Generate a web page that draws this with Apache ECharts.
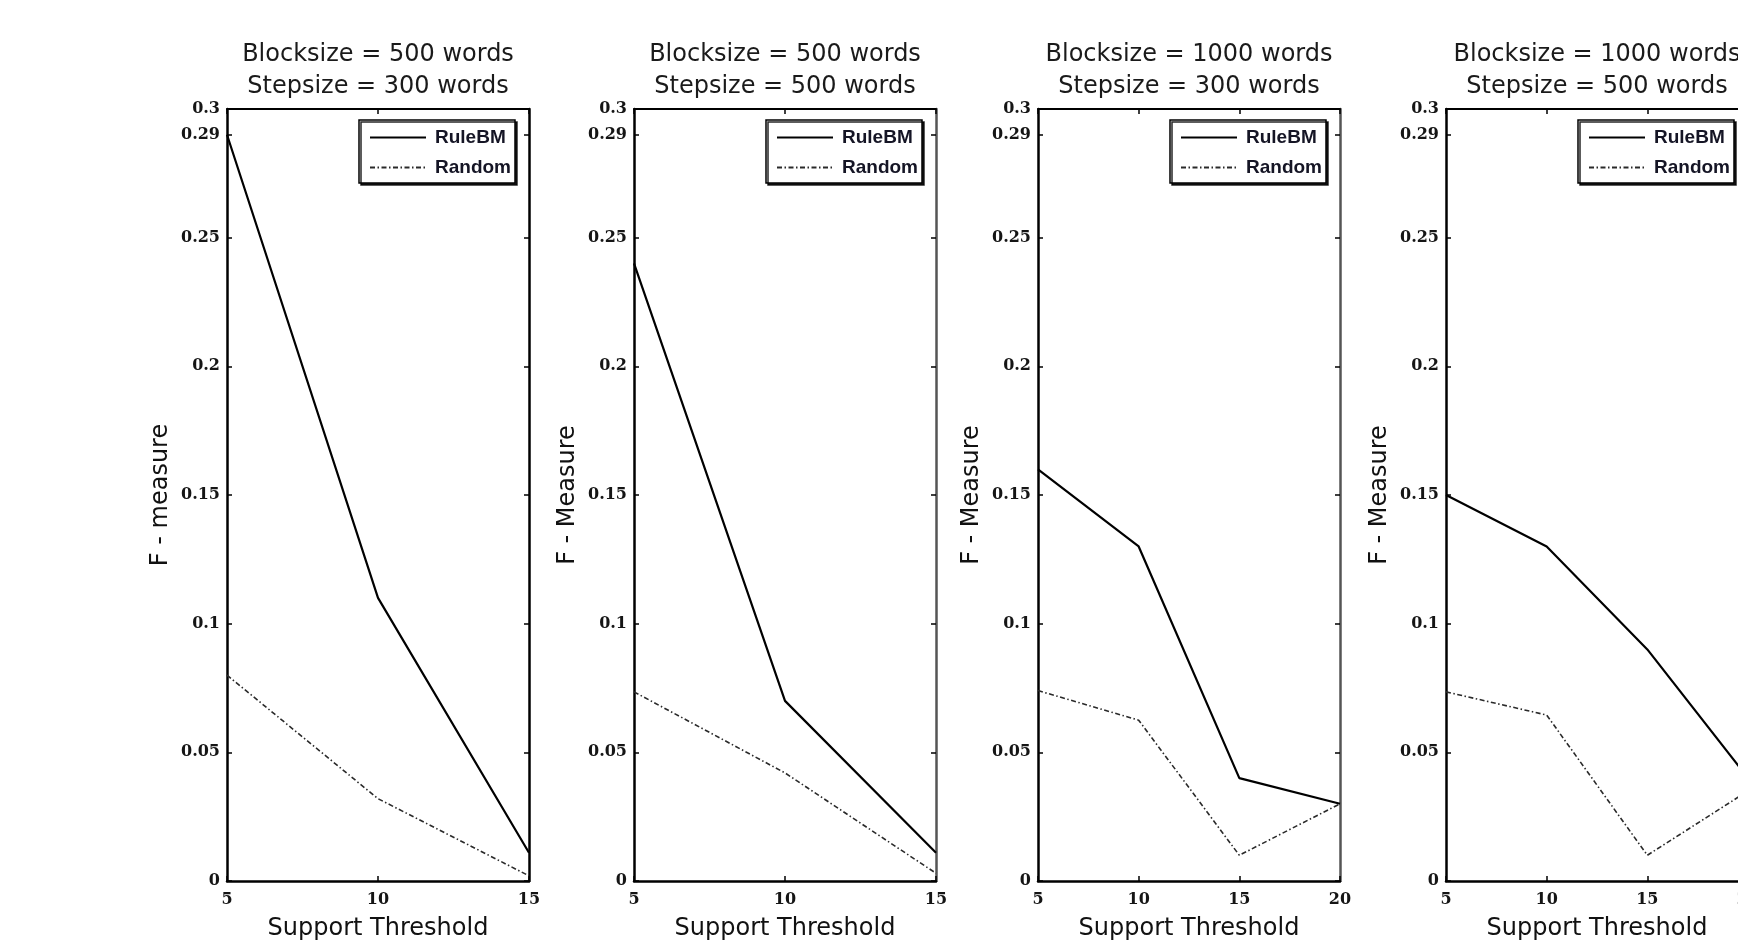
<!DOCTYPE html>
<html>
<head>
<meta charset="utf-8">
<script src="https://cdn.jsdelivr.net/npm/echarts@6/dist/echarts.min.js"></script>
<style>
  html, body { margin: 0; padding: 0; background: #ffffff; }
  #chart { width: 1738px; height: 941px; }
</style>
</head>
<body>
<div id="chart"></div>
<script>
// ---- data ----
const titleLine1 = ['Blocksize = 500 words', 'Blocksize = 500 words', 'Blocksize = 1000 words', 'Blocksize = 1000 words'];
const titleLine2 = ['Stepsize = 300 words', 'Stepsize = 500 words', 'Stepsize = 300 words', 'Stepsize = 500 words'];
const yAxisNames = ['F - measure', 'F - Measure', 'F - Measure', 'F - Measure'];
const xAxisName = 'Support Threshold';
const seriesNames = ['RuleBM', 'Random'];
const thresholds = [
  [5, 10, 15],
  [5, 10, 15],
  [5, 10, 15, 20],
  [5, 10, 15, 20]
];
const ruleBM = [
  [0.29, 0.11, 0.011],
  [0.24, 0.07, 0.011],
  [0.16, 0.13, 0.04, 0.03],
  [0.15, 0.13, 0.09, 0.04]
];
const randomF = [
  [0.08, 0.032, 0.002],
  [0.0735, 0.042, 0.003],
  [0.074, 0.0625, 0.01, 0.03],
  [0.0735, 0.0645, 0.01, 0.035]
];
const yTickValues = [0, 0.05, 0.1, 0.15, 0.2, 0.25, 0.29, 0.3];

// ---- layout / style ----
const gridLefts = [227, 634, 1038, 1446];
const gridWidth = 302;
const gridTop = 109;
const gridHeight = 772;
const rightBorderColors = ['#000', '#555', '#555', '#000'];

const tickFont = { fontFamily: 'DejaVu Serif', fontWeight: 'bold', fontSize: 16, color: '#151515' };
const nameFont = { fontFamily: 'DejaVu Sans', fontSize: 24, color: '#111' };

const grids = [], xAxes = [], yAxes = [], series = [], titles = [], legends = [];

for (let i = 0; i < 4; i++) {
  grids.push({ left: gridLefts[i], top: gridTop, width: gridWidth, height: gridHeight,
               containLabel: false, outerBoundsMode: 'none', show: false });
  const xs = thresholds[i];
  const xMin = xs[0], xMax = xs[xs.length - 1];
  // bottom x axis
  xAxes.push({
    type: 'value', gridIndex: i, position: 'bottom', min: xMin, max: xMax, interval: 5,
    name: xAxisName, nameLocation: 'middle', nameGap: 36, nameTextStyle: nameFont,
    axisLine: { show: true, onZero: false, lineStyle: { color: '#000', width: 2.5 } },
    axisTick: { show: true, inside: true, length: 5, lineStyle: { color: '#000', width: 1.5 } },
    axisLabel: Object.assign({ margin: 11 }, tickFont),
    splitLine: { show: false }
  });
  // top x axis (ticks only)
  xAxes.push({
    type: 'value', gridIndex: i, position: 'top', min: xMin, max: xMax, interval: 5,
    axisLine: { show: true, onZero: false, lineStyle: { color: '#000', width: 2 } },
    axisTick: { show: true, inside: true, length: 5, lineStyle: { color: '#000', width: 1.5 } },
    axisLabel: { show: false },
    splitLine: { show: false }
  });
  // left y axis
  yAxes.push({
    type: 'value', gridIndex: i, position: 'left', min: 0, max: 0.3,
    name: yAxisNames[i], nameLocation: 'middle', nameGap: 54, nameTextStyle: nameFont,
    axisLine: { show: true, onZero: false, lineStyle: { color: '#000', width: 2.5 } },
    axisTick: { show: true, inside: true, length: 5, customValues: yTickValues, lineStyle: { color: '#000', width: 1.5 } },
    axisLabel: Object.assign({ margin: 7, customValues: yTickValues,
      formatter: v => String(+(+v).toFixed(2)) }, tickFont),
    splitLine: { show: false }
  });
  // right y axis (ticks only)
  yAxes.push({
    type: 'value', gridIndex: i, position: 'right', min: 0, max: 0.3,
    axisLine: { show: true, onZero: false, lineStyle: { color: rightBorderColors[i], width: 2.5 } },
    axisTick: { show: true, inside: true, length: 5, customValues: yTickValues, lineStyle: { color: '#000', width: 1.5 } },
    axisLabel: { show: false },
    splitLine: { show: false }
  });

  series.push({
    name: seriesNames[0], type: 'line', xAxisIndex: 2 * i, yAxisIndex: 2 * i,
    data: xs.map((x, j) => [x, ruleBM[i][j]]),
    symbol: 'none', lineStyle: { color: '#000', width: 2.2 }, itemStyle: { color: '#000' },
    z: 3
  });
  series.push({
    name: seriesNames[1], type: 'line', xAxisIndex: 2 * i, yAxisIndex: 2 * i,
    data: xs.map((x, j) => [x, randomF[i][j]]),
    symbol: 'none', lineStyle: { color: '#2a2a2a', width: 1.6, type: [5, 2.5, 1.5, 2.5] }, itemStyle: { color: '#2a2a2a' },
    z: 2
  });

  titles.push({
    text: titleLine1[i] + '\n' + titleLine2[i],
    left: gridLefts[i] + gridWidth / 2, top: 39, textAlign: 'center', padding: 0,
    textStyle: { fontFamily: 'DejaVu Sans', fontSize: 24, fontWeight: 'normal', color: '#1a1a1a', lineHeight: 32 }
  });

  legends.push({
    orient: 'vertical', left: gridLefts[i] + 132, top: 120,
    data: seriesNames, selectedMode: false,
    itemWidth: 56, itemHeight: 14, itemGap: 11,
    padding: [8, 4, 6, 10],
    itemStyle: { opacity: 0, color: 'transparent', borderWidth: 0 },
    backgroundColor: '#fff', borderColor: '#000', borderWidth: 1.5, borderRadius: 0,
    shadowColor: 'rgba(0,0,0,0.85)', shadowBlur: 0, shadowOffsetX: 2, shadowOffsetY: 2,
    textStyle: { fontFamily: 'Liberation Sans', fontWeight: 'bold', fontSize: 19, color: '#151525', padding: [0, 0, 0, 4] }
  });
}

const chart = echarts.init(document.getElementById('chart'), null, { renderer: 'canvas' });
chart.setOption({
  animation: false,
  backgroundColor: '#ffffff',
  title: titles,
  legend: legends,
  grid: grids,
  xAxis: xAxes,
  yAxis: yAxes,
  series: series
});
</script>
</body>
</html>
